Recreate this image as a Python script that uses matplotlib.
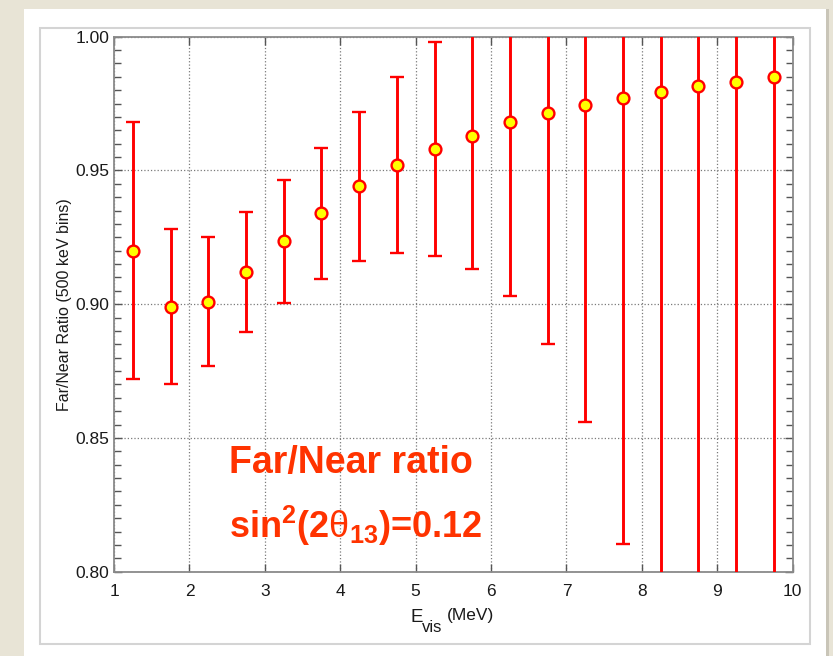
import numpy as np
import matplotlib
matplotlib.use('Agg')
import matplotlib.pyplot as plt
from matplotlib.patches import Rectangle
from matplotlib.ticker import MultipleLocator

plt.rcParams['font.family'] = ['Liberation Sans', 'DejaVu Sans']
plt.rcParams['mathtext.fontset'] = 'custom'
plt.rcParams['mathtext.rm'] = 'Liberation Sans'
plt.rcParams['mathtext.it'] = 'Liberation Sans:italic'
plt.rcParams['mathtext.bf'] = 'Liberation Sans:bold'

# bin centres (MeV) and far/near ratio
energy = [1.25, 1.75, 2.25, 2.75, 3.25, 3.75, 4.25, 4.75, 5.25,
          5.75, 6.25, 6.75, 7.25, 7.75, 8.25, 8.75, 9.25, 9.75]
ratio = [0.920, 0.899, 0.901, 0.912, 0.9235, 0.934, 0.944, 0.952, 0.958,
         0.963, 0.968, 0.9715, 0.9745, 0.977, 0.9795, 0.9815, 0.983, 0.985]
err = [0.048, 0.029, 0.024, 0.0225, 0.023, 0.0245, 0.028, 0.033, 0.040,
       0.050, 0.065, 0.0865, 0.1185, 0.1665, 0.25, 0.35, 0.50, 0.70]

W, H = 833, 656
fig = plt.figure(figsize=(W / 100, H / 100), dpi=100, facecolor='#e8e4d6')

# white slide panel with a faint shadow and inner frame
fig.patches.append(Rectangle((0.0325, 0.0), 0.9628, 0.9863, transform=fig.transFigure,
                             facecolor='#c9c5b8', edgecolor='none', zorder=-3))
fig.patches.append(Rectangle((0.0288, 0.0), 0.9628, 0.9863, transform=fig.transFigure,
                             facecolor='white', edgecolor='none', zorder=-2))
fig.patches.append(Rectangle((0.048, 0.0183), 0.9244, 0.939, transform=fig.transFigure,
                             facecolor='none', edgecolor='#d4d4d4', linewidth=1.5, zorder=-1))

ax = fig.add_axes([0.1369, 0.1285, 0.8147, 0.8156])
ax.set_facecolor('white')

ax.errorbar(energy, ratio, yerr=err, fmt='o', color='#ff0000', ecolor='#ff0000',
            elinewidth=2.1, capsize=5, capthick=2.1, markersize=8.5,
            markerfacecolor='#ffff00', markeredgecolor='#ff0000', markeredgewidth=1.7,
            zorder=3)

ax.set_xlim(1, 10)
ax.set_ylim(0.80, 1.00)
ax.set_xticks(np.arange(1, 11, 1))
ax.set_yticks([0.80, 0.85, 0.90, 0.95, 1.00])
ax.set_yticklabels(['0.80', '0.85', '0.90', '0.95', '1.00'])
ax.yaxis.set_minor_locator(MultipleLocator(0.005))

ax.grid(True, which='major', linestyle=':', color='#7a7a7a', linewidth=0.9)
ax.tick_params(axis='both', which='both', direction='in', top=True, right=True,
               colors='#555555', labelcolor='#1a1a1a', labelsize=12.5)
ax.tick_params(axis='both', which='major', length=6, width=1)
ax.tick_params(axis='y', which='minor', length=5, width=1)
ax.tick_params(axis='x', which='major', pad=9)
for s in ax.spines.values():
    s.set_color('#8a8a8a')
    s.set_linewidth(1.3)

ax.set_ylabel('Far/Near Ratio (500 keV bins)', fontsize=11.5, color='#1a1a1a', labelpad=2)

# x label: E with a large "vis" subscript, then (MeV)
def px(x, y):
    return x / W, 1 - y / H

fig.text(*px(410, 622), 'E', fontsize=13.5, color='#1a1a1a', va='baseline')
fig.text(*px(422, 632), 'vis', fontsize=12, color='#1a1a1a', va='baseline')
fig.text(*px(447, 620), '(MeV)', fontsize=12.5, color='#1a1a1a', va='baseline')

ax.text(0.169, 0.1845, 'Far/Near ratio', transform=ax.transAxes, ha='left', va='baseline',
        fontsize=27, fontweight='bold', color='#ff3300')
ax.text(0.169, 0.063, r'sin$^{\mathbf{2}}$(2$\mathrm{\theta}_{\mathbf{13}}$)=0.12',
        transform=ax.transAxes, ha='left', va='baseline',
        fontsize=26, fontweight='bold', color='#ff3300')

fig.savefig('out.png', dpi=100, facecolor=fig.get_facecolor())
